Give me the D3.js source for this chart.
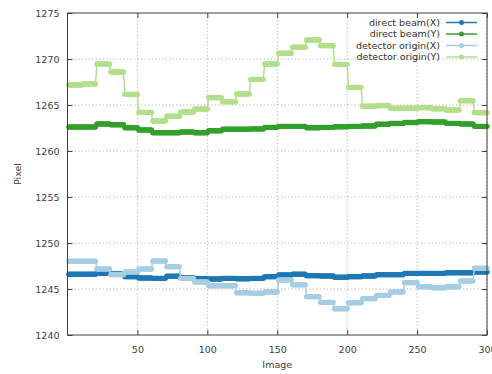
<!DOCTYPE html>
<html>
<head>
<meta charset="utf-8">
<script src="https://cdn.jsdelivr.net/npm/d3@7"></script>
<style>
  html, body { margin: 0; padding: 0; background: #fff; }
  svg { display: block; font-family: "DejaVu Sans", sans-serif; }
</style>
</head>
<body>
<svg id="chart" width="492" height="374"></svg>
<script>
// Refinement values per block of 10 images (images 1..300)
const imagesPerBlock = 10;
const directBeamX = [1246.6, 1246.6, 1246.7, 1246.63, 1246.34, 1246.2, 1246.16, 1246.38, 1246.23, 1246.12,
  1246.09, 1246.16, 1246.12, 1246.16, 1246.34, 1246.52, 1246.6, 1246.45, 1246.42, 1246.27,
  1246.34, 1246.41, 1246.56, 1246.56, 1246.7, 1246.7, 1246.7, 1246.77, 1246.77, 1246.85];
const directBeamY = [1262.61, 1262.61, 1262.93, 1262.86, 1262.53, 1262.28, 1261.99, 1261.99, 1262.07, 1261.99,
  1262.2, 1262.36, 1262.36, 1262.4, 1262.57, 1262.68, 1262.68, 1262.53, 1262.57, 1262.64,
  1262.68, 1262.72, 1262.9, 1263.0, 1263.1, 1263.19, 1263.15, 1263.0, 1262.93, 1262.68];
const detectorOriginX = [1248.01, 1248.01, 1247.17, 1246.56, 1246.85, 1247.17, 1248.04, 1247.43, 1246.16, 1245.76,
  1245.36, 1245.36, 1244.6, 1244.53, 1244.67, 1245.98, 1245.47, 1244.17, 1243.55, 1242.86,
  1243.51, 1243.95, 1244.31, 1244.67, 1245.69, 1245.25, 1245.14, 1245.25, 1245.87, 1247.25];
const detectorOriginY = [1267.17, 1267.28, 1269.46, 1268.59, 1266.16, 1264.2, 1263.26, 1263.77, 1264.24, 1264.57,
  1265.8, 1265.36, 1266.2, 1267.79, 1269.46, 1270.62, 1271.27, 1272.07, 1271.45, 1269.42,
  1266.92, 1264.86, 1264.93, 1264.64, 1264.64, 1264.71, 1264.6, 1264.46, 1265.47, 1264.17];

const seriesNames = ["direct beam(X)", "direct beam(Y)", "detector origin(X)", "detector origin(Y)"];
const seriesColors = ["#1f78b4", "#33a02c", "#a6cee3", "#b2df8a"];
const seriesBlocks = [directBeamX, directBeamY, detectorOriginX, detectorOriginY];

const xTicks = [50, 100, 150, 200, 250, 300];
const yTicks = [1240, 1245, 1250, 1255, 1260, 1265, 1270, 1275];

const svg = d3.select("#chart");
const plot = { left: 67.5, right: 487, top: 13, bottom: 335 };

const x = d3.scaleLinear().domain([0, 300]).range([plot.left, plot.right]);
const y = d3.scaleLinear().domain([1240, 1275]).range([plot.bottom, plot.top]);

// Expand block values onto individual image numbers
const images = d3.range(1, 301);
const series = seriesBlocks.map((blocks, k) => ({
  name: seriesNames[k],
  color: seriesColors[k],
  points: images.map(img => ({ img, v: blocks[Math.floor((img - 1) / imagesPerBlock)] }))
}));

// Grid lines
const grid = svg.append("g").attr("stroke", "#b0b0b0").attr("stroke-width", 0.8)
  .attr("stroke-dasharray", "1.5,2");
grid.selectAll("line.gx").data(xTicks).join("line")
  .attr("x1", d => x(d)).attr("x2", d => x(d))
  .attr("y1", plot.top).attr("y2", plot.bottom);
grid.selectAll("line.gy").data(yTicks.filter(d => d > 1240 && d < 1275)).join("line")
  .attr("y1", d => y(d)).attr("y2", d => y(d))
  .attr("x1", plot.left).attr("x2", plot.right);

// Axes: ticks point inward, mirrored on the opposite borders
const tickColor = "#404040";
const bottomAxis = d3.axisBottom(x).tickValues(xTicks).tickSize(-5).tickPadding(11).tickFormat(d3.format("d"));
const leftAxis = d3.axisLeft(y).tickValues(yTicks).tickSize(-5).tickPadding(8).tickFormat(d3.format("d"));
const topAxis = d3.axisTop(x).tickValues(xTicks).tickSize(-5).tickFormat("");
const rightAxis = d3.axisRight(y).tickValues(yTicks).tickSize(-5).tickFormat("");

function styleAxis(g) {
  g.select(".domain").remove();
  g.selectAll(".tick line").attr("stroke", tickColor).attr("stroke-width", 1);
  g.selectAll(".tick text").attr("fill", "#404040").attr("font-size", "9.5px")
    .attr("font-family", "'DejaVu Sans', sans-serif");
}
svg.append("g").attr("transform", `translate(0,${plot.bottom})`).call(bottomAxis).call(styleAxis);
svg.append("g").attr("transform", `translate(${plot.left},0)`).call(leftAxis).call(styleAxis);
svg.append("g").attr("transform", `translate(0,${plot.top})`).call(topAxis).call(styleAxis);
svg.append("g").attr("transform", `translate(${plot.right},0)`).call(rightAxis).call(styleAxis);

// Series: thin connecting line plus a dot at every image
const line = d3.line().x(d => x(d.img)).y(d => y(d.v));
series.forEach(s => {
  const g = svg.append("g");
  g.append("path").datum(s.points)
    .attr("fill", "none").attr("stroke", s.color).attr("stroke-width", 1.5).attr("d", line);
  g.selectAll("circle").data(s.points).join("circle")
    .attr("cx", d => x(d.img)).attr("cy", d => y(d.v)).attr("r", 2.7)
    .attr("fill", s.color);
});

// Plot border
svg.append("rect")
  .attr("x", plot.left).attr("y", plot.top)
  .attr("width", plot.right - plot.left).attr("height", plot.bottom - plot.top)
  .attr("fill", "none").attr("stroke", "#404040").attr("stroke-width", 1);

// Axis titles
svg.append("text").attr("x", (plot.left + plot.right) / 2).attr("y", 368)
  .attr("text-anchor", "middle").attr("font-size", "9.5px").attr("fill", "#404040").text("Image");
svg.append("text")
  .attr("transform", `translate(21,${(plot.top + plot.bottom) / 2}) rotate(-90)`)
  .attr("text-anchor", "middle").attr("font-size", "9.5px").attr("fill", "#404040").text("Pixel");

// Legend
const legend = svg.append("g");
series.forEach((s, i) => {
  const cy = 22.5 + i * 11.5;
  legend.append("text").attr("x", 440).attr("y", cy).attr("dy", "0.35em")
    .attr("text-anchor", "end").attr("font-size", "9.5px").attr("fill", "#333").text(s.name);
  legend.append("line").attr("x1", 446).attr("x2", 477).attr("y1", cy).attr("y2", cy)
    .attr("stroke", s.color).attr("stroke-width", 1.5);
  legend.append("circle").attr("cx", 461.5).attr("cy", cy).attr("r", 2.5).attr("fill", s.color);
});
</script>
</body>
</html>
